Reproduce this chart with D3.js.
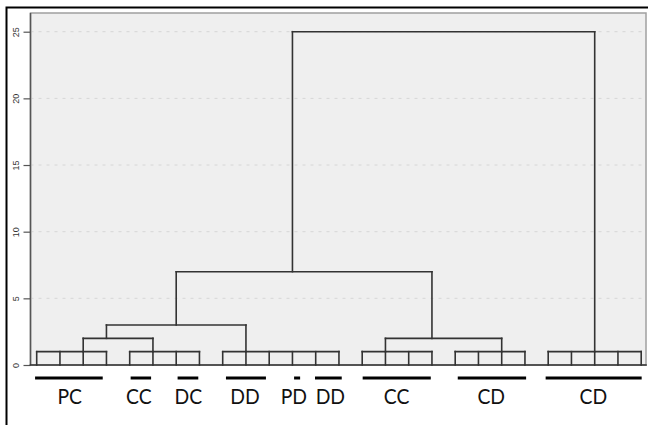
<!DOCTYPE html>
<html>
<head>
<meta charset="utf-8">
<script src="https://cdn.jsdelivr.net/npm/d3@7"></script>
<style>
  body { margin: 0; background: #fff; }
  svg { display: block; }
</style>
</head>
<body>
<div id="chart"></div>
<script>
// leaves are indexed 0..26 from left to right
const leafCount = 27;

// groups of leaves that join at height 1 (stem = leaf where the group line goes up)
const groupFirst = [0, 4, 8, 14, 18, 22];
const groupLast  = [3, 7, 13, 17, 21, 26];
const groupStem  = [2, 5, 9, 15, 20, 24];
const groupHeight = 1;

// merges: node ids 0-5 are the groups, merges get ids 6, 7, 8, ...
const mergeLeft   = [0, 3, 6, 8, 9];
const mergeRight  = [1, 4, 2, 7, 5];
const mergeHeight = [2, 2, 3, 7, 25];
const mergeStem   = [3, 17, 6, 11, 17];

// category bars and labels under the leaves (in leaf units)
const labelText = ["PC", "CC", "DC", "DD", "PD", "DD", "CC", "CD", "CD"];
const labelPos  = [1.42, 4.39, 6.52, 8.96, 11.06, 12.63, 15.48, 19.55, 23.94];
const barFrom   = [-0.07, 4.04, 6.06, 8.14, 11.07, 11.97, 14.02, 18.11, 21.89];
const barTo     = [2.84, 4.92, 6.95, 9.86, 11.33, 13.12, 16.95, 21.05, 26.02];

const yTicks = [0, 5, 10, 15, 20, 25];

const W = 648, H = 425;
const plot = {left: 30.5, top: 13, right: 646, bottom: 365};

const svg = d3.select("#chart").append("svg")
    .attr("width", W)
    .attr("height", H);

// outer frame
svg.append("rect")
    .attr("x", 6.5).attr("y", 7.5)
    .attr("width", 700).attr("height", 500)
    .attr("fill", "none")
    .attr("stroke", "#000")
    .attr("stroke-width", 2);

const x = d3.scaleLinear().domain([0, leafCount - 1]).range([36.7, 641.2]);
const y = d3.scaleLinear().domain([0, 25]).range([365, 31.7]);

// plot region
svg.append("rect")
    .attr("x", plot.left).attr("y", plot.top)
    .attr("width", plot.right - plot.left)
    .attr("height", plot.bottom - plot.top)
    .attr("fill", "#efefef")
    .attr("stroke", "#a0a0a0")
    .attr("stroke-width", 1.5);

// dashed grid
svg.append("g")
  .selectAll("line")
  .data(yTicks.filter(d => d > 0))
  .join("line")
    .attr("x1", plot.left).attr("x2", plot.right)
    .attr("y1", d => y(d)).attr("y2", d => y(d))
    .attr("stroke", "#d6d6d6")
    .attr("stroke-width", 1)
    .attr("stroke-dasharray", "3,5");

// y axis
const yAxis = svg.append("g")
    .attr("transform", `translate(${plot.left},0)`)
    .call(d3.axisLeft(y).tickValues(yTicks).tickSize(7).tickPadding(9));
yAxis.select(".domain").remove();
yAxis.selectAll(".tick line").attr("stroke", "#555").attr("stroke-width", 1.2);
yAxis.selectAll(".tick text")
    .attr("font-family", "Liberation Sans, Arial, sans-serif")
    .attr("font-size", 9)
    .attr("fill", "#333")
    .attr("text-anchor", "middle")
    .attr("dy", null)
    .attr("x", null)
    .attr("transform", "translate(-15,0) rotate(-90)")
    .attr("dominant-baseline", "central");
svg.append("line")
    .attr("x1", plot.left).attr("x2", plot.left)
    .attr("y1", plot.top).attr("y2", plot.bottom)
    .attr("stroke", "#555").attr("stroke-width", 1.5);

// dendrogram segments
const nodeStem = groupStem.concat(mergeStem);
const nodeHeight = groupStem.map(() => groupHeight).concat(mergeHeight);
const segs = [];
// baseline
segs.push([plot.left, y(0), plot.right, y(0)]);
groupFirst.forEach((f, g) => {
  segs.push([x(f), y(groupHeight), x(groupLast[g]), y(groupHeight)]);
  for (let i = f; i <= groupLast[g]; i++) segs.push([x(i), y(0), x(i), y(groupHeight)]);
});
mergeLeft.forEach((l, m) => {
  const r = mergeRight[m], h = mergeHeight[m];
  segs.push([x(nodeStem[l]), y(h), x(nodeStem[r]), y(h)]);
  segs.push([x(nodeStem[l]), y(nodeHeight[l]), x(nodeStem[l]), y(h)]);
  segs.push([x(nodeStem[r]), y(nodeHeight[r]), x(nodeStem[r]), y(h)]);
});

svg.append("g")
  .selectAll("line")
  .data(segs)
  .join("line")
    .attr("x1", d => d[0]).attr("y1", d => d[1])
    .attr("x2", d => d[2]).attr("y2", d => d[3])
    .attr("stroke", "#333")
    .attr("stroke-width", 1.6)
    .attr("stroke-linecap", "square");

// category bars
svg.append("g")
  .selectAll("line")
  .data(labelText)
  .join("line")
    .attr("x1", (d, i) => x(barFrom[i]))
    .attr("x2", (d, i) => x(barTo[i]))
    .attr("y1", 378).attr("y2", 378)
    .attr("stroke", "#000")
    .attr("stroke-width", 3);

// category labels (narrowed to look like the original's condensed face)
svg.append("g")
  .selectAll("text")
  .data(labelText)
  .join("text")
    .attr("transform", (d, i) => `translate(${x(labelPos[i])},404) scale(0.88,1)`)
    .attr("text-anchor", "middle")
    .attr("font-family", "Lato, sans-serif")
    .attr("font-size", 22)
    .attr("fill", "#111")
    .text(d => d);
</script>
</body>
</html>
